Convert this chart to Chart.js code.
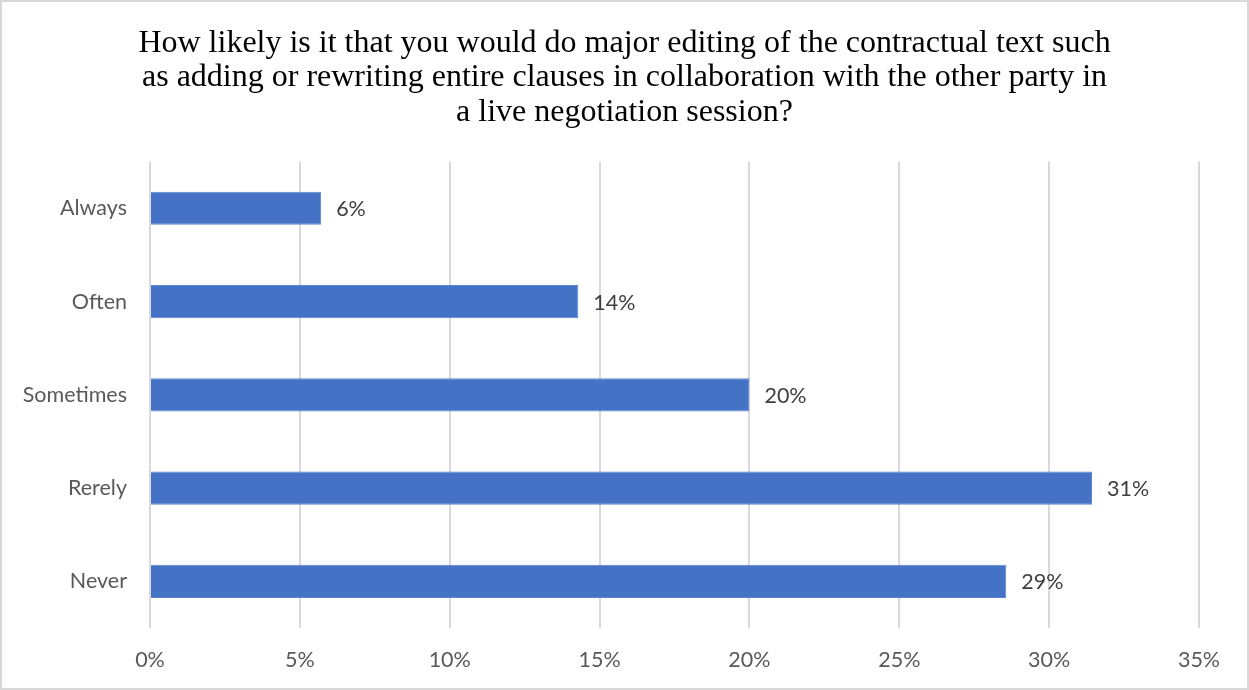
<!DOCTYPE html>
<html>
<head>
<meta charset="utf-8">
<script src="https://cdn.jsdelivr.net/npm/chart.js@4"></script>
<style>
  html, body { margin: 0; padding: 0; background: #fff; }
  canvas { display: block; }
</style>
</head>
<body>
<canvas id="barChart" width="1249" height="690"></canvas>
<script>
// answers, top to bottom
var categories = ['Always', 'Often', 'Sometimes', 'Rerely', 'Never'];
// share of respondents, percent
var shares = [5.71, 14.29, 20.0, 31.43, 28.57];
var tickLabels = ['0%', '5%', '10%', '15%', '20%', '25%', '30%', '35%'];

var titleLines = [
  'How likely is it that you would do major editing of the contractual text such',
  'as adding or rewriting entire clauses in collaboration with the other party in',
  'a live negotiation session?'
];

// white page with a thin grey frame
var framePlugin = {
  id: 'frame',
  beforeDraw: function(chart) {
    var ctx = chart.ctx;
    ctx.save();
    ctx.fillStyle = '#ffffff';
    ctx.fillRect(0, 0, chart.width, chart.height);
    ctx.strokeStyle = '#d9d9d9';
    ctx.lineWidth = 2;
    ctx.strokeRect(1, 1, chart.width - 2, chart.height - 2);
    ctx.restore();
  }
};

// percent labels just past the end of each bar
var valueLabels = {
  id: 'valueLabels',
  afterDatasetsDraw: function(chart) {
    var ctx = chart.ctx;
    var meta = chart.getDatasetMeta(0);
    ctx.save();
    ctx.font = '21.5px Lato';
    ctx.fillStyle = '#404040';
    ctx.textAlign = 'left';
    ctx.textBaseline = 'middle';
    meta.data.forEach(function(bar, i) {
      ctx.fillText(Math.round(shares[i]) + '%', bar.x + 15, bar.y + 1);
    });
    ctx.restore();
  }
};

var ctx = document.getElementById('barChart').getContext('2d');
var myChart = new Chart(ctx, {
  type: 'bar',
  data: {
    labels: categories,
    datasets: [{
      data: shares,
      backgroundColor: '#4472c4',
      borderColor: '#5b86d0',
      borderWidth: 1,
      barPercentage: 0.355,
      categoryPercentage: 1.0
    }]
  },
  options: {
    indexAxis: 'y',
    responsive: false,
    animation: false,
    // equal side padding keeps the title centred on the page
    layout: { padding: { left: 12, right: 12, top: 0, bottom: 0 } },
    plugins: {
      legend: { display: false },
      tooltip: { enabled: false },
      title: {
        display: true,
        text: titleLines,
        color: '#000000',
        font: { family: 'Liberation Serif', size: 32, weight: 'normal', lineHeight: 1.08 },
        padding: { top: 26, bottom: 32 }
      }
    },
    scales: {
      x: {
        min: 0,
        max: 35,
        ticks: {
          stepSize: 5,
          color: '#595959',
          font: { family: 'Lato', size: 21.5 },
          padding: 19,
          callback: function(v, i) { return tickLabels[i]; }
        },
        grid: { color: '#d9d9d9', lineWidth: 2, drawTicks: false },
        border: { display: false },
        afterFit: function(scale) { scale.height = 62; }
      },
      y: {
        ticks: {
          color: '#595959',
          font: { family: 'Lato', size: 21.5 },
          padding: 23
        },
        grid: { display: false, drawTicks: false },
        border: { display: false },
        afterFit: function(scale) { scale.width = 138; }
      },
      // empty spacer on the right so the plot ends before the frame
      spacer: {
        type: 'linear',
        position: 'right',
        ticks: { display: false },
        grid: { display: false, drawTicks: false },
        border: { display: false },
        afterFit: function(scale) { scale.width = 38; }
      }
    }
  },
  plugins: [framePlugin, valueLabels]
});
</script>
</body>
</html>
